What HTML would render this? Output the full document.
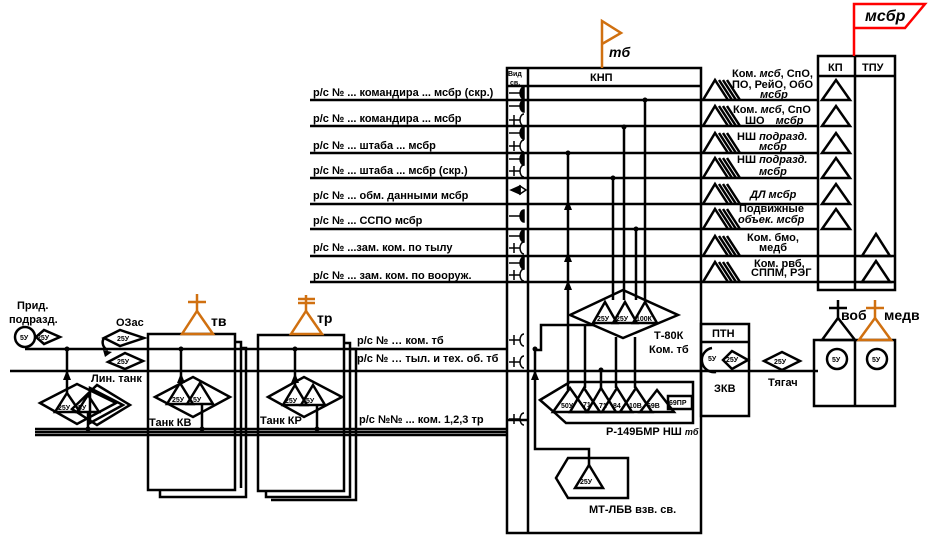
<!DOCTYPE html>
<html><head><meta charset="utf-8"><style>
html,body{margin:0;padding:0;background:#fff;}
svg{display:block;font-family:"Liberation Sans",sans-serif;font-weight:bold;}
text{fill:#000;}
</style></head><body>
<svg width="932" height="537" viewBox="0 0 932 537" xmlns="http://www.w3.org/2000/svg">
<g stroke="#000" stroke-width="2.5" fill="none">
<rect x="507" y="68" width="194" height="465"/>
<line x1="528" y1="68" x2="528" y2="533"/>
<line x1="507" y1="86" x2="701" y2="86"/>
<line x1="310" y1="100" x2="818" y2="100"/>
<line x1="310" y1="126" x2="818" y2="126"/>
<line x1="310" y1="153" x2="818" y2="153"/>
<line x1="310" y1="178" x2="818" y2="178"/>
<line x1="310" y1="204" x2="818" y2="204"/>
<line x1="310" y1="229" x2="818" y2="229"/>
<line x1="310" y1="256" x2="895" y2="256"/>
<line x1="310" y1="282" x2="895" y2="282"/>
<rect x="818" y="56" width="77" height="234"/>
<line x1="855" y1="56" x2="855" y2="290"/>
<line x1="818" y1="76" x2="895" y2="76"/>
<line x1="645" y1="100" x2="645" y2="300"/>
<line x1="624" y1="127" x2="624" y2="300"/>
<line x1="568" y1="153" x2="568" y2="390"/>
<line x1="613" y1="178" x2="613" y2="300"/>
<line x1="636" y1="229" x2="636" y2="300"/>
<line x1="25" y1="349" x2="507" y2="349"/>
<line x1="10" y1="371" x2="818" y2="371"/>
<line x1="35" y1="429" x2="507" y2="429"/>
<line x1="35" y1="432" x2="507" y2="432"/>
<line x1="35" y1="435" x2="507" y2="435"/>
<line x1="507" y1="420" x2="528" y2="420"/>
<polygon points="570,315 623,290 678,315 623,338"/>
<polygon points="593,323 605,302 617,323"/>
<polygon points="613,323 625,302 637,323"/>
<polygon points="633,323 645,302 657,323"/>
<polyline points="534,350 541,350 541,325 595,325"/>
<polygon points="540,400 570,382 693,382 693,423 566,423 555,413"/>
<polygon points="553,412 570,388 587,412"/>
<polygon points="570,412 584,388 600,412"/>
<polygon points="587,412 601,388 616,412"/>
<polygon points="602,412 617,388 632,412"/>
<polygon points="620,412 636,388 652,412"/>
<polygon points="640,412 657,390 674,412"/>
<rect x="668" y="396" width="24" height="13"/>
<line x1="585" y1="325" x2="585" y2="388"/>
<line x1="616" y1="337" x2="616" y2="388"/>
<line x1="635" y1="337" x2="635" y2="388"/>
<line x1="601" y1="370" x2="601" y2="388"/>
<polyline points="535,350 535,449 589,449 589,465"/>
<polygon points="568,458 628,458 628,498 568,498 556,478 "/>
<polygon points="575,488 589,465 603,488"/>
<rect x="701" y="324" width="48" height="92"/>
<line x1="701" y1="342" x2="749" y2="342"/>
<polygon points="723,360 732,351 748,360 732,369"/>
<path d="M712 348 A12 12 0 0 0 716 372"/>
<polygon points="764,361 782,352 800,361 782,370"/>
<rect x="814" y="340" width="81" height="66"/>
<line x1="855" y1="340" x2="855" y2="406"/>
<circle cx="837" cy="359" r="10"/>
<circle cx="877" cy="359" r="10"/>
<polygon points="822,340 838,318 855,340"/>
<line x1="838" y1="318" x2="838" y2="300"/>
<line x1="829" y1="308" x2="847" y2="308"/>
<polyline points="235,342 241,342 241,488"/>
<polyline points="241,348 246,348 246,497 160,497 160,490"/>
<rect x="148" y="334" width="87" height="156"/>
<polyline points="343,343 350,343 350,497 266,497 266,491"/>
<polyline points="350,349 356,349 356,500 271,500"/>
<rect x="258" y="335" width="86" height="156"/>
<polygon points="155,397 193,377 230,397 193,417"/>
<polygon points="167,404 180,383 193,404"/>
<polygon points="187,404 200,383 213,404"/>
<line x1="181" y1="349" x2="181" y2="383"/>
<line x1="202" y1="404" x2="202" y2="429"/>
<polygon points="268,397 304,377 342,397 304,417"/>
<polygon points="283,405 295,385 307,405"/>
<polygon points="301,405 313,385 325,405"/>
<line x1="295" y1="349" x2="295" y2="385"/>
<line x1="317" y1="405" x2="317" y2="429"/>
<polygon points="97,385 130,405 97,425 72,409"/>
<polygon points="90,388 123,405 90,423"/>
<polygon points="40,403 77,384 116,403 77,424"/>
<polygon points="55,412 67,393 80,412"/>
<polygon points="77,412 88,395 99,412"/>
<line x1="67" y1="349" x2="67" y2="393"/>
<line x1="88" y1="412" x2="88" y2="429"/>
<circle cx="25" cy="337" r="10"/>
<polygon points="36,337 44,330 60,337 44,344"/>
<polygon points="104,338 120,330 144,338 120,346"/>
<polygon points="108,362 125,353 143,361 125,369"/>
<path d="M108 350 A8 8 0 0 1 104 338"/>
</g>
<g fill="#000">
<circle cx="645" cy="100" r="2.5"/><circle cx="624" cy="127" r="2.5"/><circle cx="568" cy="153" r="2.5"/><circle cx="613" cy="178" r="2.5"/><circle cx="636" cy="229" r="2.5"/>
<circle cx="67" cy="349" r="2.5"/><circle cx="181" cy="349" r="2.5"/><circle cx="295" cy="349" r="2.5"/><circle cx="601" cy="370" r="2.5"/><circle cx="535" cy="349" r="2.5"/>
<circle cx="88" cy="429" r="2.5"/><circle cx="202" cy="429" r="2.5"/><circle cx="317" cy="429" r="2.5"/>
<polygon points="564,210 568,200 572,210"/><polygon points="564,262 568,252 572,262"/><polygon points="564,290 568,280 572,290"/>
<polygon points="531,380 535,370 539,380"/>
<polygon points="63,380 67,370 71,380"/><polygon points="177,383 181,373 185,383"/><polygon points="291,383 295,373 299,383"/>
<polygon points="103,350 112,352 105,357"/>
</g>
<g stroke="#000" stroke-width="1.5" fill="none">
<g id="s1"><line x1="509" y1="93" x2="520" y2="93"/><path d="M524 87 A4 6 0 0 0 524 99 Z" fill="#000"/></g>
<use href="#s1" y="13"/><use href="#s1" y="40"/><use href="#s1" y="66"/><use href="#s1" y="123"/><use href="#s1" y="143"/><use href="#s1" y="170"/>
<g id="s2"><line x1="509" y1="120" x2="520" y2="120"/><line x1="514" y1="115" x2="514" y2="125"/><path d="M524 114 A4 6 0 0 0 524 126"/></g>
<use href="#s2" y="26"/><use href="#s2" y="51"/><use href="#s2" y="128"/><use href="#s2" y="155"/>
<use href="#s2" y="220"/><use href="#s2" y="242"/><use href="#s2" y="299"/>
<polygon points="511,190 520,186 520,194" fill="#000"/><polygon points="520,186 526,190 520,194"/>
</g>
<g stroke="#000" stroke-width="2.5" fill="none">
<g id="m"><polyline points="703,100 715,80 728,100"/><line x1="719" y1="80" x2="732" y2="100"/><line x1="723" y1="80" x2="736" y2="100"/><line x1="727" y1="80" x2="740" y2="100"/></g>
<use href="#m" y="26"/><use href="#m" y="53"/><use href="#m" y="78"/><use href="#m" y="104"/><use href="#m" y="129"/><use href="#m" y="156"/><use href="#m" y="182"/>
<g id="t"><polygon points="822,100 836,80 850,100"/></g>
<use href="#t" y="26"/><use href="#t" y="53"/><use href="#t" y="78"/><use href="#t" y="104"/><use href="#t" y="129"/>
<polygon points="862,256 876,234 890,256"/><polygon points="862,282 876,261 890,282"/>
</g>
<g stroke="#d07010" stroke-width="2.5" fill="none">
<polyline points="602,68 602,21 621,33 602,44"/>
<polygon points="182,334 197,311 213,334"/><line x1="197" y1="311" x2="197" y2="294"/><line x1="188" y1="302" x2="206" y2="302"/>
<polygon points="291,334 306,311 322,334"/><line x1="306" y1="311" x2="306" y2="295"/><line x1="298" y1="299" x2="315" y2="299"/><line x1="298" y1="303" x2="315" y2="303"/>
<polygon points="859,340 875,318 891,340"/><line x1="875" y1="318" x2="875" y2="300"/><line x1="866" y1="308" x2="884" y2="308"/>
</g>
<polyline points="854,56 854,4 925,4 905,28 854,28" stroke="#f00" stroke-width="2.5" fill="#fff"/>
<g font-size="11">
<text x="313" y="96">р/с № ... командира ... мсбр (скр.)</text>
<text x="313" y="122">р/с № ... командира ... мсбр</text>
<text x="313" y="149">р/с № ... штаба ... мсбр</text>
<text x="313" y="174">р/с № ... штаба ... мсбр (скр.)</text>
<text x="313" y="199">р/с № ... обм. данными мсбр</text>
<text x="313" y="224">р/с № ... ССПО мсбр</text>
<text x="313" y="251">р/с № ...зам. ком. по тылу</text>
<text x="313" y="279">р/с № ... зам. ком. по вооруж.</text>
<text x="357" y="344">р/с № … ком. тб</text>
<text x="357" y="362">р/с № … тыл. и тех. об. тб</text>
<text x="359" y="423">р/с №№ ... ком. 1,2,3 тр</text>
<text x="590" y="81">КНП</text>
<text x="828" y="71">КП</text><text x="862" y="71">ТПУ</text>
<text x="732" y="77">Ком. <tspan font-style="italic">мсб</tspan>, СпО,</text>
<text x="732" y="88">ПО, РейО, ОбО</text>
<text x="760" y="98" font-style="italic">мсбр</text>
<text x="733" y="113">Ком. <tspan font-style="italic">мсб</tspan>, СпО</text>
<text x="745" y="124">ШО <tspan font-style="italic" dx="8">мсбр</tspan></text>
<text x="737" y="140">НШ <tspan font-style="italic">подразд.</tspan></text>
<text x="759" y="150" font-style="italic">мсбр</text>
<text x="737" y="163">НШ <tspan font-style="italic">подразд.</tspan></text>
<text x="759" y="175" font-style="italic">мсбр</text>
<text x="750" y="198" font-style="italic">ДЛ мсбр</text>
<text x="739" y="212">Подвижные</text>
<text x="738" y="223" font-style="italic">объек. мсбр</text>
<text x="747" y="241">Ком. бмо,</text>
<text x="759" y="251">медб</text>
<text x="754" y="267">Ком. рвб,</text>
<text x="751" y="276">СППМ, РЭГ</text>
<text x="654" y="339">Т-80К</text><text x="649" y="353">Ком. тб</text>
<text x="606" y="435">Р-149БМР НШ <tspan font-size="9" font-style="italic">тб</tspan></text>
<text x="589" y="513">МТ-ЛБВ взв. св.</text>
<text x="712" y="337">ПТН</text><text x="714" y="392">ЗКВ</text>
<text x="768" y="386">Тягач</text>
<text x="17" y="309">Прид.</text><text x="9" y="323">подразд.</text>
<text x="116" y="326">ОЗас</text>
<text x="91" y="382">Лин. танк</text>
<text x="149" y="426">Танк КВ</text><text x="260" y="424">Танк КР</text>
</g>
<g font-size="14"><text x="211" y="326">тв</text><text x="317" y="323">тр</text><text x="841" y="320">воб</text><text x="884" y="320">медв</text>
<text x="609" y="57" font-style="italic">тб</text><text x="865" y="21" font-style="italic" font-size="16">мсбр</text></g>
<g font-size="7">
<text x="508" y="76">Вид</text><text x="510" y="85">св.</text>
<text x="20" y="340">5У</text><text x="37" y="340">25У</text>
<text x="117" y="341">25У</text><text x="117" y="364">25У</text>
<text x="58" y="410">25У</text><text x="78" y="410">5У</text>
<text x="172" y="402">25У</text><text x="193" y="402">5У</text>
<text x="285" y="403">25У</text><text x="306" y="403">5У</text>
<text x="597" y="321">25У</text><text x="616" y="321">25У</text><text x="636" y="321">100К</text>
<text x="561" y="408">50У</text><text x="583" y="407">71</text><text x="599" y="408">71</text><text x="613" y="408">84</text><text x="629" y="408">10В</text><text x="647" y="408">69В</text><text x="669" y="405">69ПР</text>
<text x="580" y="484">25У</text>
<text x="708" y="361">5У</text><text x="726" y="362">25У</text><text x="774" y="364">25У</text>
<text x="832" y="362">5У</text><text x="872" y="362">5У</text>
</g>
</svg>
</body></html>
